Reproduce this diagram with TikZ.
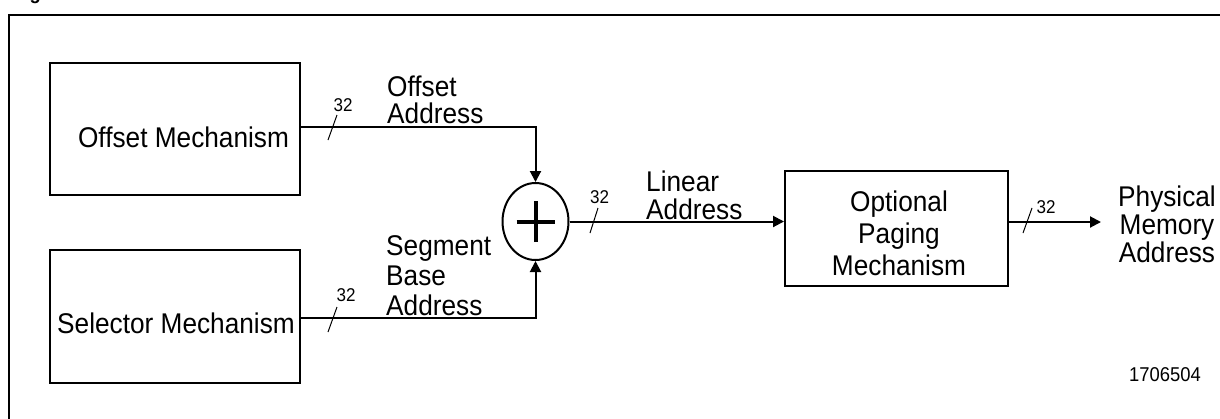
\documentclass[tikz,border=0pt]{standalone}
\usepackage{fontspec}
\setmainfont{Liberation Sans}[FakeStretch=0.92]
\usetikzlibrary{arrows.meta,shapes.geometric}
\begin{document}
\begin{tikzpicture}[x=1pt,y=-1pt,
  lab/.style={font=\fontsize{28.5}{28}\selectfont, inner sep=0pt, align=left},
  blk/.style={draw, line width=2pt, inner sep=0pt},
  conn/.style={line width=2pt, -{Triangle[length=11pt,width=11pt]}},
  tick/.style={line width=1pt},
  bus/.style={font=\fontsize{18.5}{18.5}\selectfont, inner sep=0pt}]
\useasboundingbox (0,0) rectangle (1220,418);
\begin{scope}
  \clip (0,0) rectangle (1220,418);
  \draw[line width=2.5pt] (9,15) rectangle (1240,440);
  \node[anchor=base west, font=\bfseries\fontsize{20}{20}\selectfont, inner sep=0pt] (fig) at (13,-1) {Figure};
\end{scope}

% blocks
\node[blk, minimum width=250pt, minimum height=132pt] (off) at (175,129) {};
\node[lab, anchor=base] (offt) at (183.5,147) {Offset Mechanism};
\node[blk, minimum width=250pt, minimum height=133pt] (sel) at (175,316.5) {};
\node[lab, anchor=base] (selt) at (176,333) {Selector Mechanism};
\node[draw, ellipse, line width=2pt, minimum width=66pt, minimum height=77pt, inner sep=0pt] (sum) at (535.5,221.5) {};
\draw[line width=4pt] ([xshift=-19pt]sum.center) -- ([xshift=19pt]sum.center);
\draw[line width=4pt] ([yshift=-20.5pt]sum.center) -- ([yshift=20.5pt]sum.center);
\node[blk, minimum width=223pt, minimum height=115pt] (pag) at (896.5,228.5) {};
\node[lab, anchor=base, align=center, font=\fontsize{28.5}{32}\selectfont] (pagt) at (899,275) {Optional\\Paging\\Mechanism};

% connectors
\coordinate (pout) at (1101,222);
\draw[conn] ([yshift=2pt]off.east) -| (sum.north);
\draw[conn] ([yshift=-1.5pt]sel.east) -| (sum.south);
\draw[conn] (sum.east) -- (sum.east -| pag.west);
\draw[conn] (pag.east |- pout) -- (pout);

% bus width ticks
\draw[tick] (328,140) -- (337,115);
\draw[tick] (328,332) -- (337,307);
\draw[tick] (590,233) -- (598,208);
\draw[tick] (1023,233) -- (1032,208);
\node[bus] (b1) at (343,105) {32};
\node[bus] (b2) at (346,295) {32};
\node[bus] (b3) at (599.5,197) {32};
\node[bus] (b4) at (1046,207) {32};

% labels
\node[lab, anchor=base west, font=\fontsize{28.5}{27}\selectfont] (offa) at (387,123) {Offset\\Address};
\node[lab, anchor=base west, font=\fontsize{28.5}{30}\selectfont] (sega) at (386,315) {Segment\\Base\\Address};
\node[lab, anchor=base west, font=\fontsize{28.5}{28}\selectfont] (lina) at (646,219) {Linear\\Address};
\node[lab, anchor=base, align=center, font=\fontsize{28.5}{28}\selectfont] (phys) at (1167,262) {Physical\\Memory\\Address};
\node[inner sep=0pt, font=\fontsize{20}{20}\selectfont] (num) at (1165,375) {1706504};
\end{tikzpicture}
\end{document}
